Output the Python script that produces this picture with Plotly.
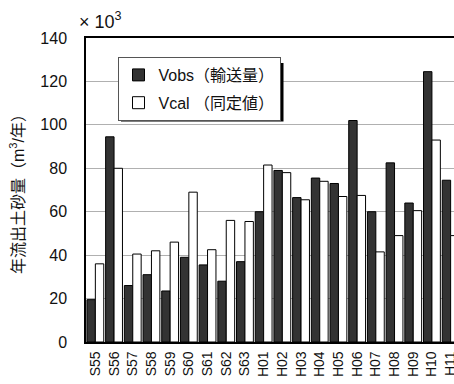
import plotly.graph_objects as go

categories = ["S55", "S56", "S57", "S58", "S59", "S60", "S61", "S62", "S63",
              "H01", "H02", "H03", "H04", "H05", "H06", "H07", "H08", "H09", "H10", "H11"]
vobs = [19.5, 94.5, 26, 31, 23.5, 39, 35.5, 28, 37,
        60, 79, 66.5, 75.5, 73, 102, 60, 82.5, 64, 124.5, 74.5]
vcal = [36, 80, 40.5, 42, 46, 69, 42.5, 56, 55.5,
        81.5, 78, 65.5, 74, 67, 67.5, 41.5, 49, 60.5, 93, 49]
y_ticks = [0, 20, 40, 60, 80, 100, 120, 140]

FONT = "Liberation Sans, Arial, Noto Sans CJK JP, sans-serif"

fig = go.Figure()
fig.add_trace(go.Bar(
    x=categories, y=vobs, name="Vobs（輸送量）", legendgroup="obs",
    marker=dict(color="#333333", line=dict(color="#000000", width=1)),
))
fig.add_trace(go.Bar(
    x=categories, y=vcal, name="Vcal （同定値）", legendgroup="cal",
    marker=dict(color="#ffffff", line=dict(color="#000000", width=1)),
))

W, H = 454, 384
L, T, B, R = 86, 38, 42, 0
pw = W - L - R
ph = H - T - B

def px_x(x):
    return (x - L) / pw

def px_y(y):
    return (H - B - y) / ph

fig.update_layout(
    template="none",
    width=W, height=H,
    margin=dict(l=L, r=R, t=T, b=B, pad=0, autoexpand=False),
    paper_bgcolor="white", plot_bgcolor="white",
    barmode="group", bargap=0.1, bargroupgap=0,
    font=dict(family=FONT, size=15, color="#111111"),
    showlegend=True,
    legend=dict(
        x=px_x(117.5), y=px_y(57), xanchor="left", yanchor="top",
        bgcolor="white", bordercolor="#555555", borderwidth=1,
        font=dict(family=FONT, size=16, color="#111111"),
        itemwidth=30, tracegroupgap=4, traceorder="grouped",
    ),
    xaxis=dict(
        type="category", range=[-0.5, 19.18], automargin=False,
        showline=True, linecolor="#000000", linewidth=1.5, mirror=True,
        showgrid=False, ticks="", tickangle=-90,
        tickfont=dict(family=FONT, size=14, color="#111111"),
        ticklabelstandoff=2, zeroline=False,
    ),
    yaxis=dict(
        range=[0, 140], tickvals=y_ticks, automargin=False,
        showline=True, linecolor="#000000", linewidth=1.5,
        showgrid=True, gridcolor="#b0b0b0", gridwidth=1,
        ticks="", tickfont=dict(family=FONT, size=16, color="#111111"),
        ticklabelstandoff=14, zeroline=False,
        title=dict(text="年流出土砂量（m<sup>3</sup>/年）",
                   font=dict(family=FONT, size=16, color="#111111"), standoff=12),
    ),
    shapes=[dict(
        type="rect", xref="paper", yref="paper",
        x0=px_x(121), x1=px_x(283.5), y0=px_y(121.5), y1=px_y(63),
        fillcolor="#000000", line=dict(width=0), layer="above",
    )],
    annotations=[dict(
        text="× 10<sup>3</sup>", xref="paper", yref="paper",
        x=px_x(77), y=px_y(21), xanchor="left", yanchor="middle",
        showarrow=False, font=dict(family=FONT, size=18, color="#111111"),
    )],
)

fig.write_html("out.html", config={"displayModeBar": False},
               post_script="document.body.style.margin='0';")
